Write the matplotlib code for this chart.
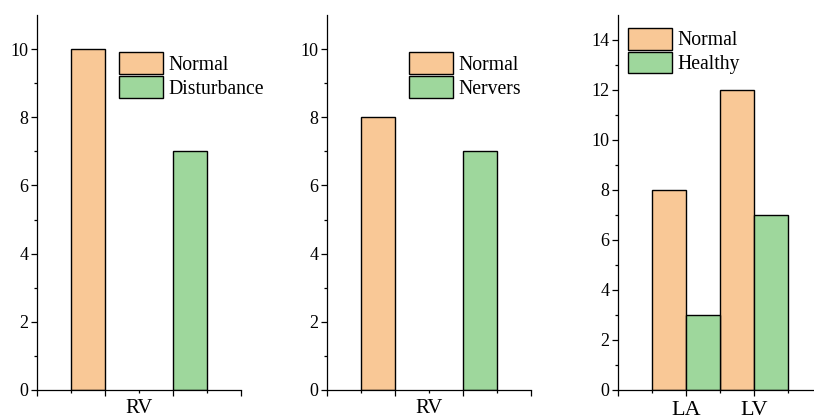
import numpy as np
import matplotlib
matplotlib.use("Agg")
import matplotlib.pyplot as plt

plt.rcParams["font.family"] = ["Liberation Serif", "DejaVu Serif"]

# data
cats_1 = ["RV"]
normal_1 = [10]
disturbance_1 = [7]

cats_2 = ["RV"]
normal_2 = [8]
nervers_2 = [7]

cats_3 = ["LA", "LV"]
normal_3 = [8, 12]
healthy_3 = [3, 7]

orange = "#F9C896"
green = "#9ED79C"


def style_axes(ax, ymax, ystep):
    for s in ["top", "right"]:
        ax.spines[s].set_visible(False)
    for s in ["left", "bottom"]:
        ax.spines[s].set_linewidth(0.9)
    ax.set_ylim(0, ymax)
    ax.set_yticks(np.arange(0, ymax, ystep))
    ax.set_yticks(np.arange(ystep / 2, ymax, ystep), minor=True)
    ax.tick_params(axis="both", which="major", direction="out", length=4, width=0.9)
    ax.tick_params(axis="both", which="minor", direction="out", length=2.5, width=0.9)
    ax.tick_params(axis="y", labelsize=13, pad=2)


def make_legend(ax, labels, anchor):
    handles = [plt.Rectangle((0, 0), 1, 1, facecolor=c, edgecolor="black", linewidth=1)
               for c in (orange, green)]
    ax.legend(handles, labels, loc="upper left", bbox_to_anchor=anchor, frameon=False,
              fontsize=14.2, handlelength=2.25, handleheight=1.3, labelspacing=0.07,
              handletextpad=0.25, borderpad=0, borderaxespad=0)


fig = plt.figure(figsize=(8.14, 4.18), dpi=100)
bottom = 1 - 390 / 418
height = 375 / 418

# panel 1 and 2: one category, bars far apart
for left, normal, other, label, cats in [
    (37, normal_1, disturbance_1, "Disturbance", cats_1),
    (327, normal_2, nervers_2, "Nervers", cats_2),
]:
    ax = fig.add_axes([left / 814, bottom, 204 / 814, height])
    centers = np.array([3.0])
    ax.bar(centers - 1.5, normal, width=1, color=orange, edgecolor="black", linewidth=1)
    ax.bar(centers + 1.5, other, width=1, color=green, edgecolor="black", linewidth=1)
    ax.set_xlim(0, 6)
    style_axes(ax, 11, 2)
    ax.set_xticks([0, 2, 4, 6], labels=[""] * 4)
    ax.set_xticks([1, 3, 5], labels=["", cats[0], ""], minor=True)
    ax.tick_params(axis="x", which="minor", labelsize=15, pad=4)
    make_legend(ax, ["Normal", label], (0.402, 0.90))

# panel 3: two categories, grouped bars
ax = fig.add_axes([618 / 814, bottom, 204 / 814, height])
centers = np.array([2.0, 4.0])
ax.bar(centers - 0.5, normal_3, width=1, color=orange, edgecolor="black", linewidth=1)
ax.bar(centers + 0.5, healthy_3, width=1, color=green, edgecolor="black", linewidth=1)
ax.set_xlim(0, 6)
style_axes(ax, 15, 2)
ax.set_xticks([0, 2, 4], labels=["", cats_3[0], cats_3[1]])
ax.set_xticks([1, 3, 5], minor=True)
ax.tick_params(axis="x", which="major", labelsize=16, pad=4)
make_legend(ax, ["Normal", "Healthy"], (0.049, 0.965))

fig.savefig("out.png", dpi=100)
